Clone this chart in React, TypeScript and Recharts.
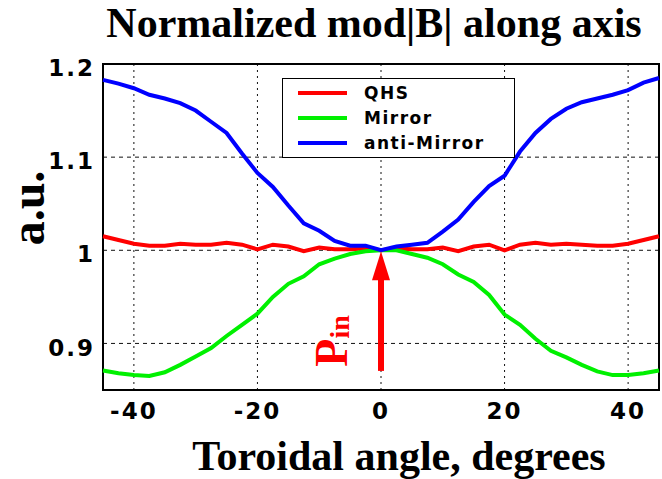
import React from 'react';
import { LineChart, Line, XAxis, YAxis, CartesianGrid, ReferenceArea, ReferenceLine, ReferenceDot } from 'recharts';

const angles = [-45, -42.5, -40, -37.5, -35, -32.5, -30, -27.5, -25, -22.5, -20, -17.5, -15, -12.5, -10, -7.5, -5, -2.5, 0,
    2.5, 5, 7.5, 10, 12.5, 15, 17.5, 20, 22.5, 25, 27.5, 30, 32.5, 35, 37.5, 40, 42.5, 45];

const qhs = [1.015, 1.011, 1.007, 1.005, 1.005, 1.007, 1.006, 1.006, 1.008, 1.006, 1.001, 1.006, 1.004, 0.999, 1.003, 1.001, 1.001, 1.002, 1.0,
    1.002, 1.001, 1.001, 1.003, 0.999, 1.004, 1.006, 1.0, 1.006, 1.008, 1.006, 1.007, 1.006, 1.005, 1.005, 1.007, 1.011, 1.015];

const mirror = [0.871, 0.868, 0.866, 0.865, 0.869, 0.877, 0.886, 0.895, 0.908, 0.92, 0.932, 0.95, 0.964, 0.972, 0.985, 0.991, 0.996, 0.999, 1.0,
    1.0, 0.996, 0.992, 0.985, 0.974, 0.966, 0.952, 0.931, 0.92, 0.905, 0.892, 0.885, 0.877, 0.87, 0.866, 0.866, 0.868, 0.871];

const antiMirror = [1.183, 1.179, 1.174, 1.167, 1.163, 1.158, 1.15, 1.138, 1.126, 1.104, 1.083, 1.068, 1.048, 1.029, 1.021, 1.01, 1.005, 1.005, 1.0,
    1.004, 1.006, 1.008, 1.02, 1.033, 1.052, 1.069, 1.08, 1.106, 1.126, 1.141, 1.152, 1.159, 1.163, 1.167, 1.172, 1.18, 1.185];

const xTicks = [-40, -20, 0, 20, 40];
const yTicks = [0.9, 1.0, 1.1, 1.2];

const legendItems = [
    { label: 'QHS', color: '#ff0000' },
    { label: 'Mirror', color: '#00f000' },
    { label: 'anti-Mirror', color: '#0000ff' },
];

const data = angles.map((a, i) => ({ angle: a, qhs: qhs[i], mirror: mirror[i], anti: antiMirror[i] }));

const tickStyle = { fontSize: 23, fontWeight: 'bold', fill: '#000', fontFamily: 'DejaVu Sans', letterSpacing: 2 };

function LegendBox() {
    return (
        <div style={{ position: 'absolute', left: 282, top: 78, width: 231, height: 78, border: '1px solid #000', background: '#fff', boxSizing: 'content-box' }}>
            {legendItems.map((it, i) => (
                <div key={it.label} style={{ position: 'absolute', left: 0, top: 3 + i * 25, height: 22, display: 'flex', alignItems: 'center' }}>
                    <div style={{ marginLeft: 15, width: 49, height: 4, background: it.color }} />
                    <span style={{ marginLeft: 17, fontFamily: 'DejaVu Sans', fontWeight: 'bold', fontSize: 17, letterSpacing: 1.5, color: '#000' }}>{it.label}</span>
                </div>
            ))}
        </div>
    );
}

const ArrowHead = (p: any) => (
    <polygon points={`${p.cx},${p.cy + 1} ${p.cx - 9},${p.cy + 30} ${p.cx + 9},${p.cy + 30}`} fill="#ff0000" />
);

const PinLabel = (p: any) => {
    const x = p.cx - 34;
    const y = p.cy;
    return (
        <text x={x} y={y} transform={`rotate(-90 ${x} ${y})`} fill="#ff0000" fontFamily="Liberation Serif" fontWeight="bold" fontSize={46}>
            P<tspan fontSize={28} dy={2}>in</tspan>
        </text>
    );
};

export default function App() {
    return (
        <div style={{ position: 'absolute', left: 0, top: 0, width: 662, height: 479, background: '#fff' }}>
            <LineChart width={662} height={479} data={data} margin={{ top: 64, right: 3, bottom: 49, left: 0 }}>
                <CartesianGrid horizontal={true} vertical={false} stroke="#111" strokeDasharray="4 4" />
                <CartesianGrid horizontal={false} vertical={true} stroke="#111" strokeDasharray="2 4" />
                <XAxis dataKey="angle" type="number" domain={[-45, 45]} ticks={xTicks} height={40}
                    axisLine={false} tickLine={false} tickSize={6} tickMargin={7} tick={tickStyle} />
                <YAxis type="number" domain={[0.85, 1.2]} ticks={yTicks} width={103}
                    tickFormatter={(v: number) => String(Math.round(v * 10) / 10)}
                    axisLine={false} tickLine={false} tick={{ ...tickStyle, dy: 4 }} />
                <ReferenceArea x1={-45} x2={45} y1={0.85} y2={1.2} fill="none" stroke="#000" strokeWidth={2} ifOverflow="visible" />
                <Line dataKey="qhs" stroke="#ff0000" strokeWidth={4} dot={false} isAnimationActive={false} />
                <Line dataKey="mirror" stroke="#00f000" strokeWidth={4} dot={false} isAnimationActive={false} />
                <Line dataKey="anti" stroke="#0000ff" strokeWidth={4} dot={false} isAnimationActive={false} />
                <ReferenceLine segment={[{ x: 0, y: 0.8705 }, { x: 0, y: 0.972 }]} stroke="#ff0000" strokeWidth={6} />
                <ReferenceDot x={0} y={1.0} r={0} shape={ArrowHead} />
                <ReferenceDot x={0} y={0.875} r={0} shape={PinLabel} />
            </LineChart>
            <LegendBox />
            <svg width={662} height={479} style={{ position: 'absolute', left: 0, top: 0, pointerEvents: 'none' }}>
                <text x={374} y={37} textAnchor="middle" fontFamily="Liberation Serif" fontWeight="bold" fontSize={42} fill="#000">
                    Normalized mod|B| along axis
                </text>
                <text x={399} y={470} textAnchor="middle" fontFamily="Liberation Serif" fontWeight="bold" fontSize={42} fill="#000">
                    Toroidal angle, degrees
                </text>
                <text transform="translate(44,208) rotate(-90)" textAnchor="middle" fontFamily="Liberation Serif" fontWeight="bold" fontSize={48} fill="#000">
                    a.u.
                </text>
            </svg>
        </div>
    );
}
